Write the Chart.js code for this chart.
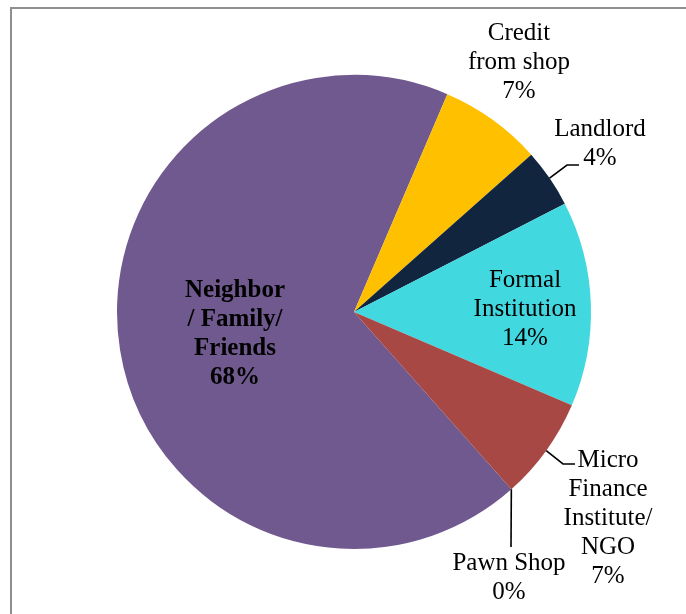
<!DOCTYPE html>
<html>
<head>
<meta charset="utf-8">
<script src="https://cdn.jsdelivr.net/npm/chart.js@4/dist/chart.umd.min.js"></script>
<style>
  html, body { margin: 0; padding: 0; background: #ffffff; }
  #wrap { width: 686px; height: 614px; position: relative; }
</style>
</head>
<body>
<div id="wrap"><canvas id="pie" width="686" height="614"></canvas></div>
<script>
// Sources of borrowing, share of households (%)
const categories = [
  ['Neighbor', '/ Family/', 'Friends'],
  ['Credit', 'from shop'],
  ['Landlord'],
  ['Formal', 'Institution'],
  ['Micro', 'Finance', 'Institute/', 'NGO'],
  ['Pawn Shop']
];
const shares = [68, 7, 4, 14, 7, 0];
const percentLabels = ['68%', '7%', '4%', '14%', '7%', '0%'];

const sliceColors = ['#6F598E', '#FFC000', '#11253F', '#42D8E0', '#A84844', '#8C8C8C'];

// Label placement: centre of the text block, and optional leader line (elbow + end)
const labelLayout = [
  { x: 235, y: 334, bold: true },
  { x: 519, y: 62 },
  { x: 600, y: 144, elbow: [567, 165], end: [579, 165] },
  { x: 525, y: 309 },
  { x: 608, y: 518, elbow: [563, 464], end: [575, 464] },
  { x: 509, y: 578, elbow: [511, 547], end: [511, 547] }
];

const LINE_H = 29;
const FONT = '"Liberation Serif", "Times New Roman", serif';

const frame = {
  id: 'frame',
  beforeDraw(chart) {
    const ctx = chart.ctx;
    ctx.save();
    ctx.fillStyle = '#ffffff';
    ctx.fillRect(0, 0, chart.width, chart.height);
    ctx.strokeStyle = '#8f8f8f';
    ctx.lineWidth = 2;
    ctx.strokeRect(11, 8, chart.width + 20, chart.height + 20);
    ctx.restore();
  }
};

const sliceLabels = {
  id: 'sliceLabels',
  afterDatasetsDraw(chart) {
    const ctx = chart.ctx;
    const arcs = chart.getDatasetMeta(0).data;
    ctx.save();
    arcs.forEach((arc, i) => {
      const lay = labelLayout[i];
      if (lay.elbow) {
        const p = arc.getProps(['x', 'y', 'startAngle', 'endAngle', 'outerRadius'], true);
        const mid = (p.startAngle + p.endAngle) / 2;
        const sx = p.x + Math.cos(mid) * p.outerRadius;
        const sy = p.y + Math.sin(mid) * p.outerRadius;
        ctx.beginPath();
        ctx.strokeStyle = '#000000';
        ctx.lineWidth = 1.6;
        ctx.moveTo(sx, sy);
        ctx.lineTo(lay.elbow[0], lay.elbow[1]);
        ctx.lineTo(lay.end[0], lay.end[1]);
        ctx.stroke();
      }
      const lines = categories[i].concat([percentLabels[i]]);
      ctx.font = (lay.bold ? 'bold ' : '') + '25px ' + FONT;
      ctx.fillStyle = '#000000';
      ctx.textAlign = 'center';
      ctx.textBaseline = 'middle';
      const top = lay.y - (lines.length - 1) * LINE_H / 2;
      lines.forEach((t, k) => ctx.fillText(t, lay.x, top + k * LINE_H));
    });
    ctx.restore();
  }
};

new Chart(document.getElementById('pie'), {
  type: 'pie',
  data: {
    labels: categories.map(c => c.join(' ')),
    datasets: [{
      data: shares,
      backgroundColor: sliceColors,
      borderWidth: 0
    }]
  },
  options: {
    responsive: false,
    devicePixelRatio: 1,
    animation: false,
    rotation: -221.6,
    layout: { padding: { left: 117, right: 95, top: 75, bottom: 65 } },
    plugins: {
      legend: { display: false },
      tooltip: { enabled: false },
      title: { display: false }
    }
  },
  plugins: [frame, sliceLabels]
});
</script>
</body>
</html>
